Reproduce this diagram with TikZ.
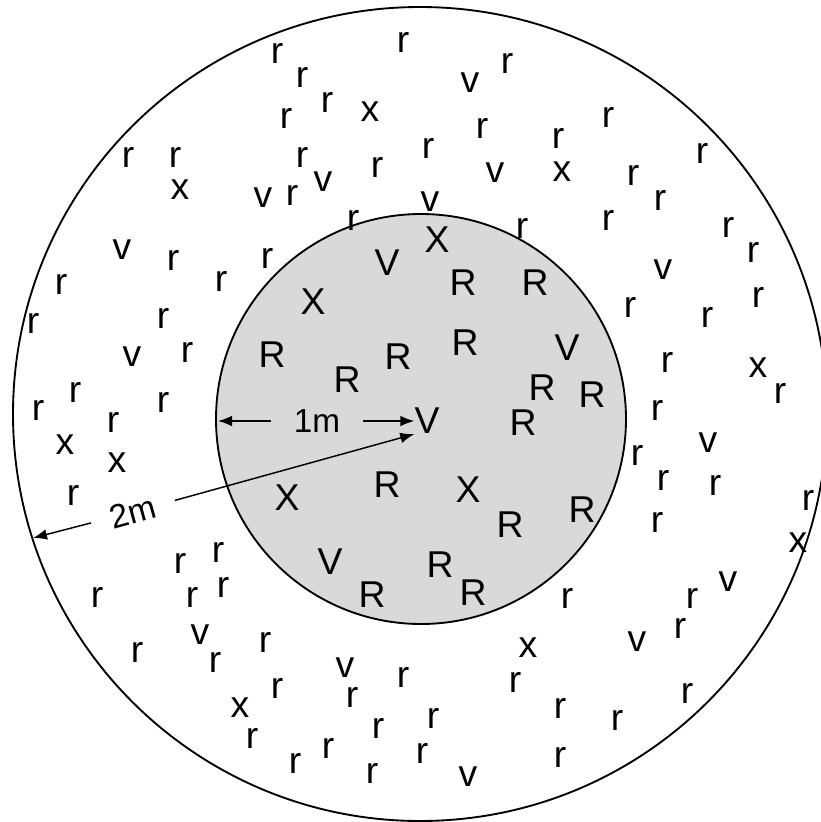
\documentclass[tikz,border=0pt]{standalone}
\usepackage{fontspec}
\setmainfont{Liberation Sans}
\usetikzlibrary{arrows.meta}

\begin{document}
\begin{tikzpicture}[>={Latex[length=10.5pt, width=8pt]}, x=0.75pt, y=-0.75pt,
    chu/.style={inner sep=0pt, font=\fontsize{28}{30}\selectfont},
    nhan/.style={inner sep=0pt, font=\fontsize{25}{30}\selectfont}]
    \useasboundingbox (0,0) rectangle (821,822);

    % Hai đường tròn
    \draw[line width=1.4pt] (420,414) circle[radius=407];
    \draw[line width=1.4pt, fill=black!15] (421,419) circle[radius=205];

    % Chữ hoa trong vòng tròn nhỏ
    \foreach \a/\b [count=\i] in {463/283, 535/283, 465/343, 272/355, 398/357,
        347/380, 542/388, 592/395, 523/423, 387/485, 510/525, 582/510,
        440/565, 473/593, 372/595}
        \node[chu] (R\i) at (\a,\b) {R};
    \foreach \a/\b [count=\i] in {387/263, 567/348, 330/562}
        \node[chu] (V\i) at (\a,\b) {V};
    \foreach \a/\b [count=\i] in {437/240, 313/302, 287/498, 468/490}
        \node[chu] (X\i) at (\a,\b) {X};
    \node[chu] (tam) at (427,421) {V};

    % Chữ thường ở vành ngoài
    \foreach \a/\b [count=\i] in {277/53, 403/42, 302/77, 327/102, 286/118,
        128/157, 175/157, 302/157, 377/167, 292/195, 353/220, 173/260,
        267/258, 61/284, 221/281, 507/63, 482/128, 428/148, 558/138,
        608/117, 702/153, 633/175, 660/200, 522/228, 608/220, 728/227,
        753/252, 33/323, 163/318, 187/352, 75/392, 38/410, 163/402,
        113/422, 73/495, 630/307, 707/317, 758/297, 667/362, 780/393,
        657/410, 637/455, 663/480, 715/485, 657/522, 808/500, 180/563,
        218/552, 97/597, 192/597, 223/587, 137/652, 215/662, 265/642,
        277/688, 352/697, 403/677, 378/728, 252/738, 328/748, 295/763,
        372/773, 422/753, 567/598, 692/598, 680/628, 515/682, 560/708,
        617/720, 687/693, 433/718, 560/757}
        \node[chu] (r\i) at (\a,\b) {r};
    \foreach \a/\b [count=\i] in {323/182, 263/198, 122/250, 470/83, 495/173,
        430/202, 663/270, 132/357, 708/443, 200/635, 345/668, 728/582,
        637/642, 468/777}
        \node[chu] (v\i) at (\a,\b) {v};
    \foreach \a/\b [count=\i] in {370/112, 180/190, 562/172, 65/445, 117/463,
        758/368, 798/543, 240/708, 528/648}
        \node[chu] (x\i) at (\a,\b) {x};

    % Bán kính 1m và 2m
    \coordinate (trongT) at (218,421);
    \coordinate (ngoaiT) at (33,538);
    \node[nhan, inner xsep=17pt] (mot) at (317,421) {1m};
    \node[nhan, inner xsep=15pt, rotate=15.4] (hai) at (133,512) {2m};
    \draw[->, line width=1.1pt] (mot) -- (trongT);
    \draw[->, line width=1.1pt] (mot) -- (tam.west);
    \draw[->, line width=1.1pt] (hai) -- (tam.south west);
    \draw[->, line width=1.1pt] (hai) -- (ngoaiT);
\end{tikzpicture}
\end{document}
